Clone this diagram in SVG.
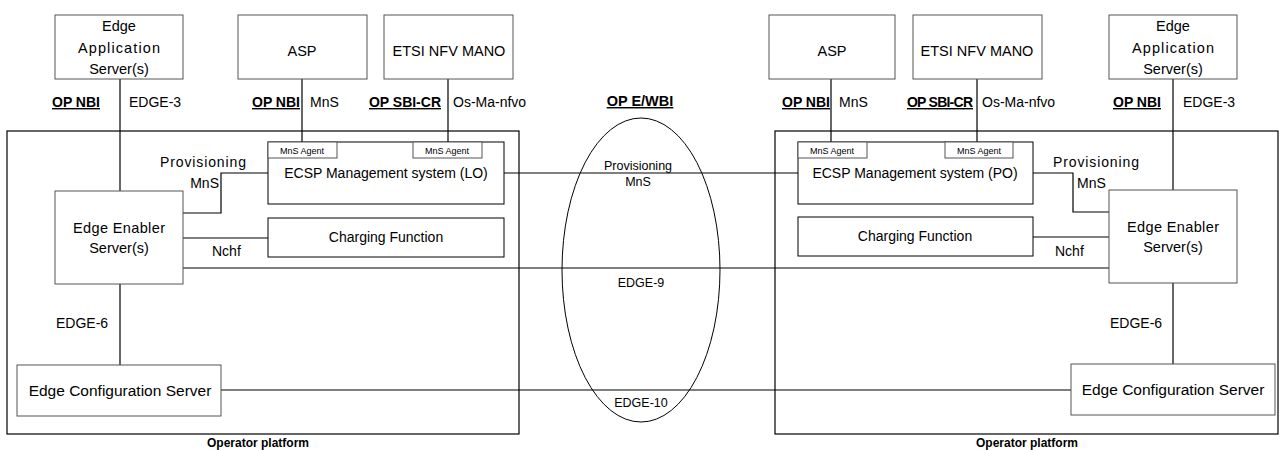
<svg xmlns="http://www.w3.org/2000/svg" width="1286" height="450" viewBox="0 0 1286 450">
<style>
.box{fill:#fff;stroke:#555;stroke-width:1}
.bk{stroke:#000}
.plat{fill:none;stroke:#000;stroke-width:1.2}
.ln{stroke:#000;stroke-width:1.2;fill:none}
text{font-family:"Liberation Sans",Arial,sans-serif;fill:#000}
.t{font-size:14.5px;text-anchor:middle}
.l{font-size:14px}
.u{font-size:14px;font-weight:bold;text-decoration:underline}
.s{font-size:9px;text-anchor:middle}
.e{font-size:12.5px;text-anchor:middle}
.p{font-size:12px;font-weight:bold;text-anchor:middle}
</style>
<rect width="1286" height="450" fill="#fff"/>
<g id="platform-left"><rect class="plat" x="7" y="131" width="512" height="303"/><text class="p" x="258" y="447">Operator platform</text></g>
<g id="platform-right"><rect class="plat" x="775" y="131" width="503" height="303"/><text class="p" x="1027" y="447">Operator platform</text></g>
<g id="ewbi"><ellipse cx="641" cy="270" rx="79" ry="152" fill="none" stroke="#000" stroke-width="1"/><text class="u" x="640" y="106" text-anchor="middle" style="font-size:14.5px">OP E/WBI</text></g>
<g id="connectors">
<line class="ln" x1="120" y1="79" x2="120" y2="191"/>
<line class="ln" x1="302" y1="79" x2="302" y2="142"/>
<line class="ln" x1="448" y1="79" x2="448" y2="142"/>
<polyline class="ln" points="268,173 221,173 221,213 183,213"/>
<line class="ln" x1="183" y1="238" x2="268" y2="238"/>
<line class="ln" x1="183" y1="268" x2="1109" y2="268"/>
<line class="ln" x1="120" y1="284" x2="120" y2="365"/>
<line class="ln" x1="221" y1="390" x2="1071" y2="390"/>
<line class="ln" x1="504" y1="173" x2="798" y2="173"/>
<line class="ln" x1="831" y1="79" x2="831" y2="142"/>
<line class="ln" x1="977" y1="79" x2="977" y2="142"/>
<line class="ln" x1="1173" y1="79" x2="1173" y2="190"/>
<polyline class="ln" points="1033,173 1073,173 1073,212 1109,212"/>
<line class="ln" x1="1033" y1="237" x2="1109" y2="237"/>
<line class="ln" x1="1173" y1="283" x2="1173" y2="364"/>
</g>
<g id="labels">
<text class="u" x="52" y="107">OP NBI</text><text class="l" x="129" y="107">EDGE-3</text>
<text class="u" x="252" y="107">OP NBI</text><text class="l" x="310" y="107">MnS</text>
<text class="u" x="369" y="107" textLength="72">OP SBI-CR</text><text class="l" x="453" y="107">Os-Ma-nfvo</text>
<text class="l" x="246" y="167" text-anchor="end" textLength="86">Provisioning</text><text class="l" x="219" y="188" text-anchor="end">MnS</text>
<text class="l" x="212" y="256">Nchf</text>
<text class="l" x="56" y="328">EDGE-6</text>
<text class="e" x="638" y="170">Provisioning</text><text class="e" x="638" y="186">MnS</text>
<text class="e" x="641" y="287">EDGE-9</text>
<text class="e" x="641" y="407">EDGE-10</text>
<text class="u" x="782" y="107">OP NBI</text><text class="l" x="839" y="107">MnS</text>
<text class="u" x="907" y="107" textLength="66">OP SBI-CR</text><text class="l" x="982" y="107">Os-Ma-nfvo</text>
<text class="u" x="1113" y="107">OP NBI</text><text class="l" x="1183" y="107">EDGE-3</text>
<text class="l" x="1053" y="167" textLength="86">Provisioning</text><text class="l" x="1077" y="188">MnS</text>
<text class="l" x="1055" y="256">Nchf</text>
<text class="l" x="1110" y="328">EDGE-6</text>
</g>
<g id="eas-left"><rect class="box" x="55" y="15" width="128" height="64"/><text class="t" x="119" y="31">Edge</text><text class="t" x="119" y="53" textLength="82">Application</text><text class="t" x="119" y="74">Server(s)</text></g>
<g id="asp-left"><rect class="box" x="238" y="15" width="129" height="64"/><text class="t" x="302" y="56">ASP</text></g>
<g id="mano-left"><rect class="box" x="384" y="15" width="129" height="64"/><text class="t" x="449" y="56">ETSI NFV MANO</text></g>
<g id="ecsp-lo"><rect class="box bk" x="268" y="142" width="236" height="62"/><rect class="box" x="268" y="142" width="69" height="16"/><text class="s" x="302" y="154">MnS Agent</text><rect class="box" x="413" y="142" width="69" height="16"/><text class="s" x="447" y="154">MnS Agent</text><text class="t" x="386" y="178" style="font-size:14px">ECSP Management system (LO)</text></g>
<g id="ees-left"><rect class="box" x="55" y="191" width="128" height="93"/><text class="t" x="119" y="233" textLength="92">Edge Enabler</text><text class="t" x="119" y="253">Server(s)</text></g>
<g id="chf-left"><rect class="box bk" x="268" y="218" width="236" height="39"/><text class="t" x="386" y="242" style="font-size:14px">Charging Function</text></g>
<g id="ecs-left"><rect class="box" x="17" y="365" width="204" height="51"/><text class="t" x="120" y="396" style="font-size:15.5px">Edge Configuration Server</text></g>
<g id="asp-right"><rect class="box" x="769" y="15" width="126" height="64"/><text class="t" x="832" y="56">ASP</text></g>
<g id="mano-right"><rect class="box" x="913" y="15" width="129" height="64"/><text class="t" x="977" y="56">ETSI NFV MANO</text></g>
<g id="eas-right"><rect class="box" x="1109" y="15" width="128" height="64"/><text class="t" x="1173" y="31">Edge</text><text class="t" x="1173" y="53" textLength="82">Application</text><text class="t" x="1173" y="74">Server(s)</text></g>
<g id="ecsp-po"><rect class="box bk" x="798" y="142" width="235" height="62"/><rect class="box" x="798" y="142" width="69" height="16"/><text class="s" x="832" y="154">MnS Agent</text><rect class="box" x="945" y="142" width="68" height="16"/><text class="s" x="979" y="154">MnS Agent</text><text class="t" x="915" y="178" style="font-size:14px">ECSP Management system (PO)</text></g>
<g id="ees-right"><rect class="box" x="1109" y="190" width="128" height="93"/><text class="t" x="1173" y="232" textLength="92">Edge Enabler</text><text class="t" x="1173" y="252">Server(s)</text></g>
<g id="chf-right"><rect class="box bk" x="798" y="217" width="235" height="39"/><text class="t" x="915" y="241" style="font-size:14px">Charging Function</text></g>
<g id="ecs-right"><rect class="box" x="1071" y="364" width="204" height="51"/><text class="t" x="1173" y="395" style="font-size:15.5px">Edge Configuration Server</text></g>
</svg>
